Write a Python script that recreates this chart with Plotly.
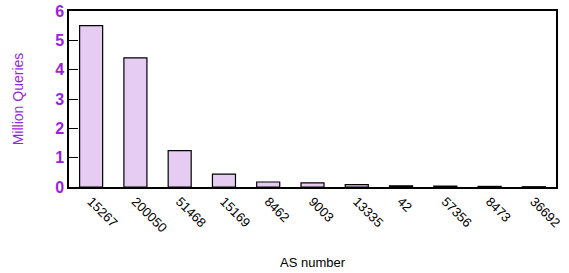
import plotly.graph_objects as go

categories = ["15267", "200050", "51468", "15169", "8462", "9003", "13335", "42", "57356", "8473", "36692"]
values = [5.5, 4.4, 1.24, 0.44, 0.17, 0.14, 0.08, 0.04, 0.03, 0.02, 0.01]
y_ticks = [0, 1, 2, 3, 4, 5, 6]

purple = "#9A1FE0"

fig = go.Figure(go.Bar(
    x=categories, y=values,
    marker=dict(color="#E6CCF3", line=dict(color="black", width=1.2)),
    width=0.52,
))
fig.update_layout(
    width=569, height=273,
    margin=dict(l=69, r=13, t=11, b=86, autoexpand=False),
    plot_bgcolor="white", paper_bgcolor="white",
    font=dict(family="Liberation Sans, Arial, sans-serif", color="black"),
    showlegend=False,
)
fig.update_xaxes(
    type="category", tickangle=45, tickfont=dict(size=13, color="black"),
    showline=True, linecolor="black", linewidth=1.5, mirror=True,
    showgrid=False, ticks="", automargin=False,
    title=dict(text="AS number", font=dict(size=13, color="black"), standoff=24),
)
fig.update_yaxes(
    range=[0, 6], tickvals=y_ticks, ticktext=[f"<b>{v}</b>" for v in y_ticks],
    tickfont=dict(size=16, color=purple),
    showline=True, linecolor="black", linewidth=1.5, mirror=True,
    showgrid=False, zeroline=False, ticks="inside", ticklen=9, tickcolor="black",
    automargin=False,
    title=dict(text="Million Queries", font=dict(size=14, color=purple), standoff=28),
)
fig.write_html("out.html", config={"displayModeBar": False},
               post_script="document.body.style.margin='0';")
